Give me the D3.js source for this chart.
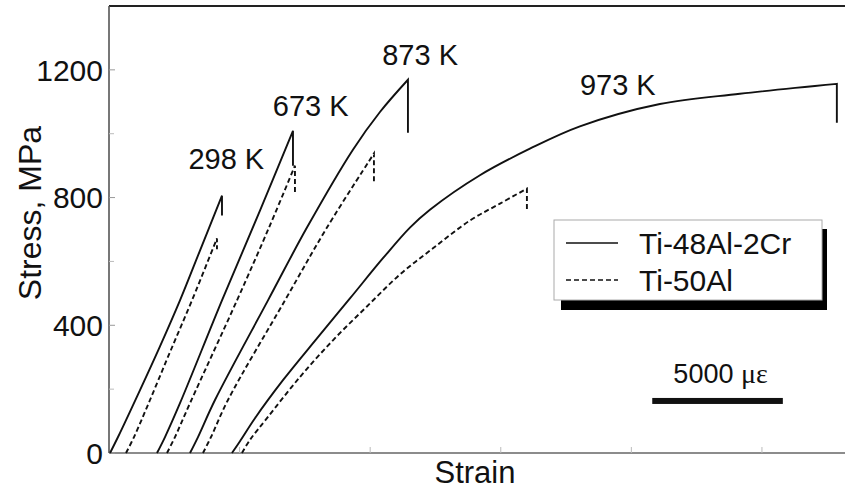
<!DOCTYPE html>
<html><head><meta charset="utf-8">
<script src="https://cdn.jsdelivr.net/npm/d3@7"></script>
<style>
html,body{margin:0;padding:0;background:#fff;}
svg{display:block;font-family:"Liberation Sans",Arial,sans-serif;}
</style></head>
<body><svg id="chart" width="845" height="490"></svg>
<script>
// ---- data (strain in microstrain, stress in MPa) ----
const yTicksMajor = [0, 400, 800, 1200];
const yTicksMinor = [200, 600, 1000];
const xTicks = [5000, 10000, 15000, 20000, 25000];
const temperatures = ["298 K", "673 K", "873 K", "973 K"];
const alloys = ["Ti-48Al-2Cr", "Ti-50Al"];

// Ti-48Al-2Cr (solid)
const cr298 = [[40,0],[345,50],[1187,197],[1952,334],[2718,478],[3483,634],[4326,806]];
const cr673 = [[1837,0],[2144,50],[2718,156],[4326,478],[5780,759],[7044,1009]];
const cr873 = [[3101,0],[3407,50],[4058,166],[6087,478],[7579,706],[9340,950],[10374,1068],[11446,1169]];
const cr973 = [[4708,0],[5015,37],[5589,109],[6661,228],[7962,359],[9225,484],[10489,610],[11522,706],[12288,762],[14202,870],[16116,953],[18030,1023],[21092,1093],[24155,1125],[27868,1156]];
// Ti-50Al (dashed)
const al298 = [[651,0],[957,50],[1569,166],[2335,316],[3177,478],[4134,672]];
const al673 = [[2220,0],[2526,50],[3101,156],[4900,478],[6163,713],[7120,900]];
const al873 = [[3598,0],[3905,50],[4555,166],[6737,478],[8345,706],[10144,938]];
const al973 = [[5091,0],[5397,41],[6048,109],[7311,238],[8575,353],[9876,459],[11139,559],[12403,641],[13819,728],[14968,781],[16001,828]];
// stress after fracture drop
const crDrop = [744, 900, 1003, 1034];
const alDrop = [638, 812, 847, 756];
// temperature label anchors (strain, stress)
const labelStrain = [3040, 6270, 10460, 18030];
const labelStress = [890, 1055, 1214, 1120];
const scaleBarStrain = [20800, 25800];
const scaleBarStress = 163;

// ---- chart ----
const svg = d3.select("#chart");
const x = d3.scaleLinear().domain([0, 28180]).range([109, 845]);
const y = d3.scaleLinear().domain([0, 1400]).range([453, 6]);

// frame
svg.append("line").attr("x1",109).attr("x2",845).attr("y1",y(1400)).attr("y2",y(1400))
  .attr("stroke","#222").attr("stroke-width",2);
svg.append("line").attr("x1",109).attr("x2",109).attr("y1",y(1400)).attr("y2",y(0))
  .attr("stroke","#555").attr("stroke-width",1.6);
svg.append("line").attr("x1",109).attr("x2",845).attr("y1",y(0)).attr("y2",y(0))
  .attr("stroke","#666").attr("stroke-width",1.6);

// y ticks (inward)
svg.selectAll(".ymaj").data(yTicksMajor).enter().append("line")
  .attr("x1",109).attr("x2",115).attr("y1",d=>y(d)).attr("y2",d=>y(d))
  .attr("stroke","#999").attr("stroke-width",1);
svg.selectAll(".ymin").data(yTicksMinor).enter().append("line")
  .attr("x1",109).attr("x2",114).attr("y1",d=>y(d)).attr("y2",d=>y(d))
  .attr("stroke","#bbb").attr("stroke-width",1);
svg.selectAll(".ylab").data(yTicksMajor).enter().append("text")
  .attr("x",103).attr("y",d=>y(d)).attr("dy","0.36em")
  .attr("text-anchor","end").attr("font-size",30).attr("fill","#111").text(d=>d);
// x ticks (inward)
svg.selectAll(".xt").data(xTicks).enter().append("line")
  .attr("x1",d=>x(d)).attr("x2",d=>x(d)).attr("y1",y(0)).attr("y2",y(0)-6)
  .attr("stroke","#bbb").attr("stroke-width",1);

// axis titles
svg.append("text").attr("transform","translate(41,213) rotate(-90)")
  .attr("text-anchor","middle").attr("font-size",32).attr("fill","#111").text("Stress, MPa");
svg.append("text").attr("x",475).attr("y",483)
  .attr("text-anchor","middle").attr("font-size",31).attr("fill","#111").text("Strain");

// curves
const line = d3.line().x(d=>x(d[0])).y(d=>y(d[1])).curve(d3.curveCatmullRom.alpha(0.5));
const crCurves = [cr298, cr673, cr873, cr973];
const alCurves = [al298, al673, al873, al973];
function drawCurve(pts, drop, dashed){
  const last = pts[pts.length-1];
  const d = line(pts) + "L" + x(last[0]) + "," + y(drop);
  svg.append("path").attr("d", d).attr("fill","none")
    .attr("stroke","#111").attr("stroke-width",1.9)
    .attr("stroke-dasharray", dashed ? "5,3" : null)
    .attr("stroke-linejoin","miter");
}
crCurves.forEach((c,i)=>drawCurve(c, crDrop[i], false));
alCurves.forEach((c,i)=>drawCurve(c, alDrop[i], true));

// temperature labels
svg.selectAll(".tl").data(temperatures).enter().append("text")
  .attr("x",(d,i)=>x(labelStrain[i])).attr("y",(d,i)=>y(labelStress[i]))
  .attr("font-size",29).attr("fill","#111").text(d=>d);

// legend
const lg = svg.append("g");
lg.append("rect").attr("x",561).attr("y",229).attr("width",266).attr("height",81).attr("fill","#000");
lg.append("rect").attr("x",554).attr("y",220).attr("width",268).attr("height",80)
  .attr("fill","#fff").attr("stroke","#aaa").attr("stroke-width",1);
alloys.forEach((a,i)=>{
  const yy = 243 + i*37;
  lg.append("line").attr("x1",566).attr("x2",618).attr("y1",yy).attr("y2",yy)
    .attr("stroke","#111").attr("stroke-width",1.6).attr("stroke-dasharray", i ? "5,3" : null);
  lg.append("text").attr("x",639).attr("y",yy+11).attr("font-size",30).attr("fill","#111").text(a);
});

// scale bar
svg.append("rect").attr("x",x(scaleBarStrain[0])).attr("y",y(scaleBarStress)-3)
  .attr("width",x(scaleBarStrain[1])-x(scaleBarStrain[0])).attr("height",6).attr("fill","#111");
const sb = svg.append("text").attr("x",(x(scaleBarStrain[0])+x(scaleBarStrain[1]))/2+3).attr("y",383)
  .attr("text-anchor","middle").attr("fill","#111");
sb.append("tspan").attr("font-size",27).text("5000 ");
sb.append("tspan").attr("font-size",28).attr("font-family","'Liberation Serif',serif").text("με");
</script></body></html>
